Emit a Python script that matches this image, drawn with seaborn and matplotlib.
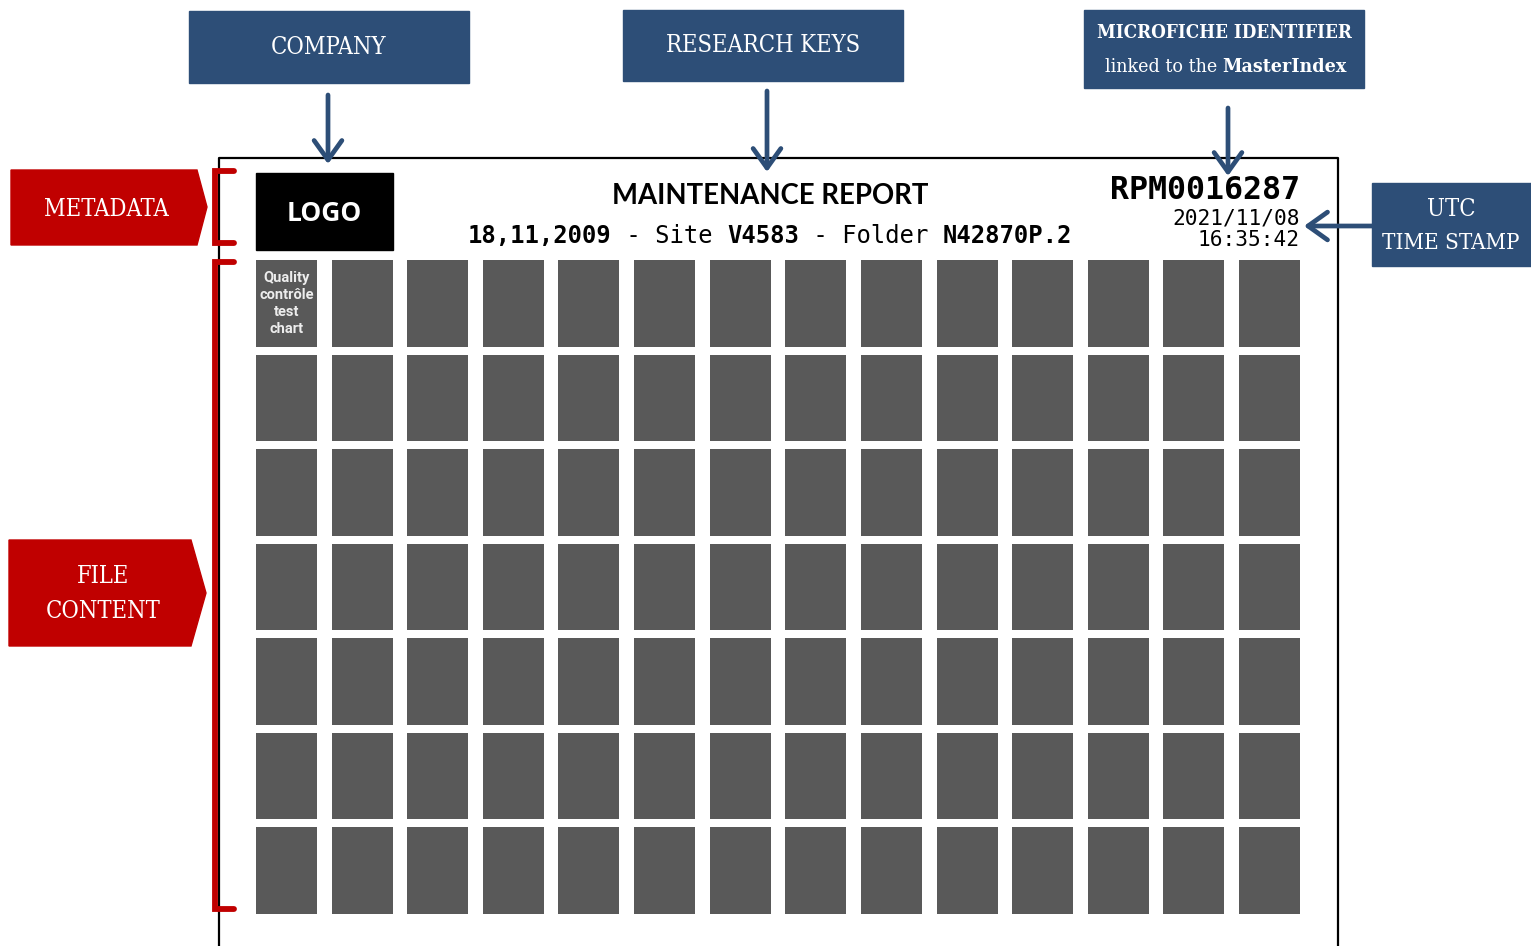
import matplotlib.pyplot as plt
import seaborn as sns
from matplotlib.patches import Rectangle, Polygon

# -------------------------
# DATA
# -------------------------
n_rows = 7
n_cols = 14
first_tile_text = ["Quality", "contrôle", "test", "chart"]

blue_labels = ["COMPANY", "RESEARCH KEYS"]
microfiche_lines = ["MICROFICHE IDENTIFIER", "linked to the", "MasterIndex"]
utc_lines = ["UTC", "TIME STAMP"]
red_labels = ["METADATA", "FILE\nCONTENT"]

logo_text = "LOGO"
report_title = "MAINTENANCE REPORT"
report_keys = ["18,11,2009", " - Site ", "V4583", " - Folder ", "N42870P.2"]
key_is_bold = [True, False, True, False, True]
microfiche_id = "RPM0016287"
timestamp = ["2021/11/08", "16:35:42"]

BLUE = "#2D4E77"
RED = "#C00000"
TILE = "#595959"

# -------------------------
# FIGURE (pixel coordinates)
# -------------------------
sns.set_theme(style="white")
plt.rcParams["font.family"] = ["DejaVu Sans"]

W, H = 1531, 946
fig = plt.figure(figsize=(W / 100, H / 100), dpi=100)
ax = fig.add_axes([0, 0, 1, 1])
ax.set_xlim(0, W)
ax.set_ylim(H, 0)
ax.axis("off")

serif = dict(family=["DejaVu Serif", "Liberation Serif"], fontstretch="condensed", color="white")

# page frame
ax.plot([219, 219, 1338, 1338], [H + 5, 158, 158, H + 5], color="black", lw=1.6, zorder=1)

# blue callout boxes
ax.add_patch(Rectangle((189, 11), 280, 72, color=BLUE, zorder=2))
ax.add_patch(Rectangle((623, 10), 280, 71, color=BLUE, zorder=2))
ax.add_patch(Rectangle((1084, 10), 280, 78, color=BLUE, zorder=2))
ax.add_patch(Rectangle((1372, 183), 159, 83, color=BLUE, zorder=2))

ax.text(329, 47, blue_labels[0], ha="center", va="center", fontsize=17, **serif, zorder=3)
ax.text(763, 46, blue_labels[1], ha="center", va="center", fontsize=17, **serif, zorder=3)
ax.text(1224, 33, microfiche_lines[0], ha="center", va="center", fontsize=13.5,
        fontweight="bold", **serif, zorder=3)
ax.text(1217, 67, microfiche_lines[1], ha="right", va="center", fontsize=14, **serif, zorder=3)
ax.text(1222, 67, microfiche_lines[2], ha="left", va="center", fontsize=14,
        fontweight="bold", **serif, zorder=3)
ax.text(1451, 209, utc_lines[0], ha="center", va="center", fontsize=17, **serif, zorder=3)
ax.text(1451, 243, utc_lines[1], ha="center", va="center", fontsize=16, **serif, zorder=3)

# arrows
def arrow(x0, y0, x1, y1):
    ax.annotate("", xy=(x1, y1), xytext=(x0, y0),
                arrowprops=dict(arrowstyle="->,head_length=0.7,head_width=0.5",
                                lw=3.4, color=BLUE, mutation_scale=20,
                                shrinkA=0, shrinkB=0),
                zorder=4)

arrow(328, 95, 328, 164)
arrow(767, 91, 767, 172)
arrow(1228, 108, 1228, 176)
arrow(1372, 226, 1304, 226)

# red tags
ax.add_patch(Polygon([(11, 170), (197, 170), (207, 207), (197, 245), (11, 245)], color=RED, zorder=2))
ax.add_patch(Polygon([(9, 540), (191, 540), (206, 593), (191, 646), (9, 646)], color=RED, zorder=2))
ax.text(106, 209, red_labels[0], ha="center", va="center", fontsize=17, **serif, zorder=3)
ax.text(103, 594, red_labels[1], ha="center", va="center", fontsize=17, linespacing=1.7,
        **serif, zorder=3)

# red brackets
ax.plot([234, 215, 215, 234], [171, 171, 243, 243], color=RED, lw=4.2,
        solid_joinstyle="miter", zorder=3)
ax.plot([234, 215, 215, 234], [262, 262, 909, 909], color=RED, lw=4.2,
        solid_joinstyle="miter", zorder=3)

# header: logo, title, keys
ax.add_patch(Rectangle((256, 173), 137, 77, color="black", zorder=2))
ax.text(324.5, 213, logo_text, ha="center", va="center", color="white", fontsize=19,
        fontweight="bold", family=["Open Sans", "DejaVu Sans"], zorder=3)

ax.text(770, 196, report_title, ha="center", va="center", color="black", fontsize=19.8,
        fontweight="bold", family=["Lato", "DejaVu Sans"], zorder=3)

key_fs = 17.2
char_w = key_fs * 100 / 72 * 0.602
x = 468
for seg, bold in zip(report_keys, key_is_bold):
    ax.text(x, 243, seg, ha="left", va="baseline", color="black", fontsize=key_fs,
            fontweight="bold" if bold else "normal", family=["DejaVu Sans Mono"], zorder=3)
    x += len(seg) * char_w

ax.text(1300, 199, microfiche_id, ha="right", va="baseline", color="black", fontsize=22.8,
        fontweight="bold", family=["DejaVu Sans Mono"], zorder=3)
ax.text(1300, 224, timestamp[0], ha="right", va="baseline", color="black", fontsize=15.2,
        family=["DejaVu Sans Mono"], zorder=3)
ax.text(1300, 246, timestamp[1], ha="right", va="baseline", color="black", fontsize=15.2,
        family=["DejaVu Sans Mono"], zorder=3)

# -------------------------
# TILE GRID (own axes, one unit per column / row)
# -------------------------
tile_w = 0.807
tile_h = 0.919
gx = fig.add_axes([256 / W, 1 - 914 / H, 1044 / W, 654 / H])
gx.set_xlim(0, n_cols - 1 + tile_w)
gx.set_ylim(n_rows - 1 + tile_h, 0)
gx.axis("off")
gx.patch.set_alpha(0)

cols = list(range(n_cols))
for r in range(n_rows):
    gx.bar(cols, [tile_h] * n_cols, width=tile_w, bottom=r, align="edge",
           color=TILE, linewidth=0)

gx.text(tile_w / 2, tile_h / 2, "\n".join(first_tile_text), ha="center", va="center",
        color="#EDEDED", fontsize=10.5, linespacing=1.25, fontweight="bold",
        family=["Roboto", "DejaVu Sans"], fontstretch="condensed")

plt.savefig("out.png", dpi=100)
